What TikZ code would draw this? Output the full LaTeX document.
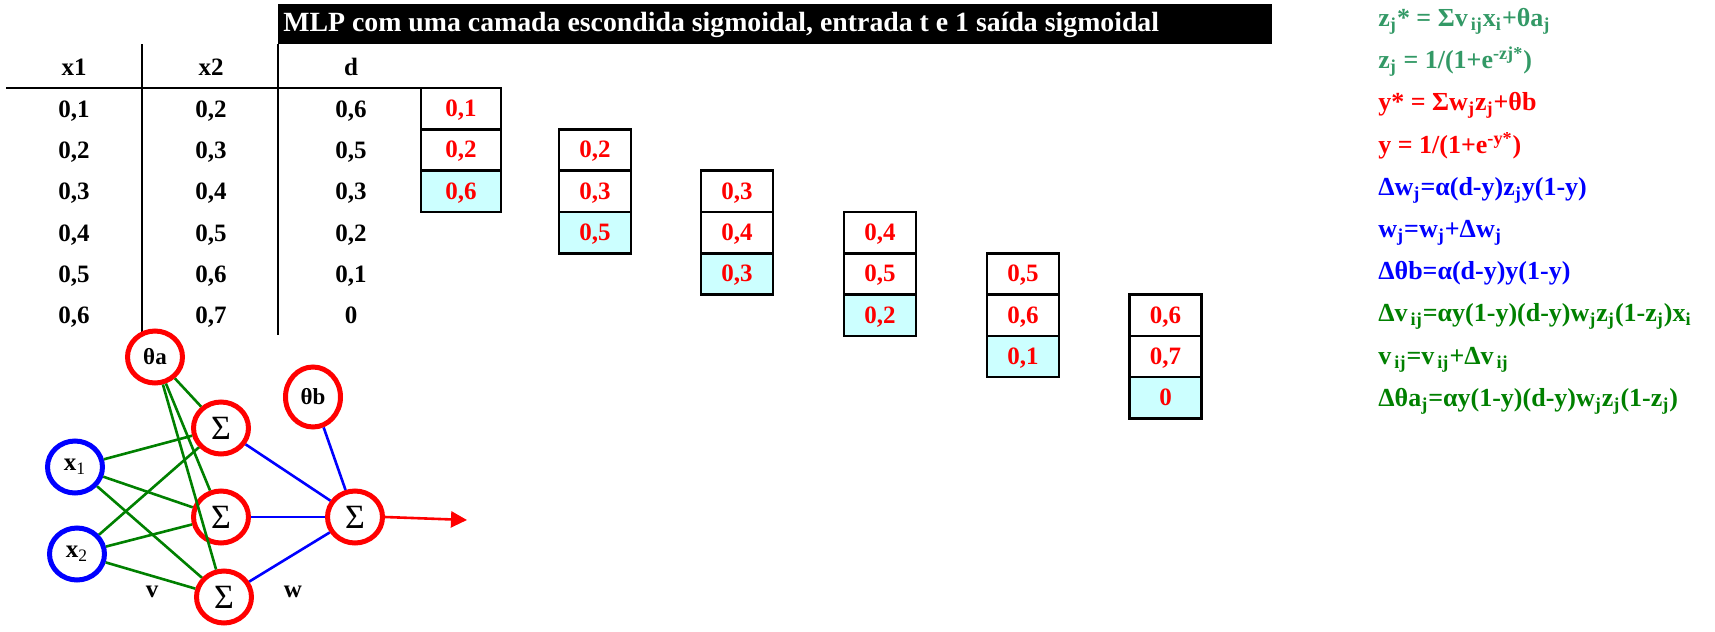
\documentclass[tikz,border=0pt]{standalone}
\usepackage{fontspec}
\setmainfont{Liberation Serif}
\usetikzlibrary{shapes.geometric,arrows.meta}
\definecolor{cellcyan}{HTML}{CCFFFF}
\definecolor{eqgreenA}{HTML}{339966}
\definecolor{eqgreen}{HTML}{008000}
\definecolor{myred}{HTML}{FF0000}
\definecolor{myblue}{HTML}{0000FF}
\begin{document}
\begin{tikzpicture}[x=0.5pt,y=-0.5pt,
  every node/.style={font=\fontsize{12.5}{15}\selectfont\bfseries},
  tline/.style={line width=1pt,black},
  cell/.style={draw=black,line width=1.3pt,minimum width=36pt,minimum height=20.65pt,inner sep=0pt,text=myred,text height=9pt,text depth=1pt},
  cellA/.style={cell,minimum width=40pt},
  hl/.style={fill=cellcyan},
  tval/.style={anchor=base,inner sep=0pt},
  eq/.style={anchor=base west,inner sep=0pt,font=\fontsize{13}{15}\selectfont\bfseries},
  neu/.style={ellipse,line width=2.5pt,minimum width=27.5pt,minimum height=26pt,inner sep=0pt},
  sig/.style={font=\fontsize{17}{18}\selectfont},
  thl/.style={font=\fontsize{11.5}{13}\selectfont\bfseries},
  vw/.style={line width=1.3pt,eqgreen},
  ww/.style={line width=1.3pt,myblue}]
\useasboundingbox (0,0) rectangle (1715,632);
% title bar
\fill[black] (278,4) rectangle (1272,44);
\node[eq,text=white,font=\fontsize{13.9}{15}\selectfont\bfseries] (title) at (283,31) {MLP com uma camada escondida sigmoidal, entrada t e 1 saída sigmoidal};
% table lines
\draw[tline] (142,44) -- (142,335);
\draw[tline] (278,44) -- (278,335);
\draw[tline] (6,88) -- (421,88);
% headers
\node[tval] (hx1) at (74,75) {x1};
\node[tval] (hx2) at (211,75) {x2};
\node[tval] (hd) at (351,75) {d};
% rows
\node[tval] (r1a) at (74,117) {0,1};  \node[tval] (r1b) at (211,117) {0,2};  \node[tval] (r1c) at (351,117) {0,6};
\node[tval] (r2a) at (74,158) {0,2};  \node[tval] (r2b) at (211,158) {0,3};  \node[tval] (r2c) at (351,158) {0,5};
\node[tval] (r3a) at (74,199.5) {0,3};  \node[tval] (r3b) at (211,199.5) {0,4};  \node[tval] (r3c) at (351,199.5) {0,3};
\node[tval] (r4a) at (74,241) {0,4};  \node[tval] (r4b) at (211,241) {0,5};  \node[tval] (r4c) at (351,241) {0,2};
\node[tval] (r5a) at (74,282) {0,5};  \node[tval] (r5b) at (211,282) {0,6};  \node[tval] (r5c) at (351,282) {0,1};
\node[tval] (r6a) at (74,323) {0,6};  \node[tval] (r6b) at (211,323) {0,7};  \node[tval] (r6c) at (351,323) {0};
% boxes
\node[cellA] (b1a) at (461,108.65) {0,1};
\node[cellA] (b1b) at (461,149.95) {0,2};
\node[cellA,hl] (b1c) at (461,191.25) {0,6};
\node[cell] (b2a) at (595,149.95) {0,2};
\node[cell] (b2b) at (595,191.25) {0,3};
\node[cell,hl] (b2c) at (595,232.55) {0,5};
\node[cell] (b3a) at (737,191.25) {0,3};
\node[cell] (b3b) at (737,232.55) {0,4};
\node[cell,hl] (b3c) at (737,273.85) {0,3};
\node[cell] (b4a) at (880,232.55) {0,4};
\node[cell] (b4b) at (880,273.85) {0,5};
\node[cell,hl] (b4c) at (880,315.15) {0,2};
\node[cell] (b5a) at (1023,273.85) {0,5};
\node[cell] (b5b) at (1023,315.15) {0,6};
\node[cell,hl] (b5c) at (1023,356.45) {0,1};
\node[cell] (b6a) at (1165.5,315.15) {0,6};
\node[cell] (b6b) at (1165.5,356.45) {0,7};
\node[cell,hl] (b6c) at (1165.5,397.75) {0};
% equations
\node[eq,text=eqgreenA] (e1) at (1378,26) {z\textsubscript{j}* = Σv\textsubscript{\,ij}x\textsubscript{i}+θa\textsubscript{j}};
\node[eq,text=eqgreenA] (e2) at (1378,68) {z\textsubscript{j} = 1/(1+e\textsuperscript{-zj*})};
\node[eq,text=myred] (e3) at (1378,110) {y* = Σw\textsubscript{j}z\textsubscript{j}+θb};
\node[eq,text=myred] (e4) at (1378,153) {y = 1/(1+e\textsuperscript{-y*})};
\node[eq,text=myblue] (e5) at (1378,195) {Δw\textsubscript{j}=α(d-y)z\textsubscript{j}y(1-y)};
\node[eq,text=myblue] (e6) at (1378,237) {w\textsubscript{j}=w\textsubscript{j}+Δw\textsubscript{j}};
\node[eq,text=myblue] (e7) at (1378,279) {Δθb=α(d-y)y(1-y)};
\node[eq,text=eqgreen] (e8) at (1378,321) {Δv\textsubscript{\,ij}=αy(1-y)(d-y)w\textsubscript{j}z\textsubscript{j}(1-z\textsubscript{j})x\textsubscript{i}};
\node[eq,text=eqgreen] (e9) at (1378,364) {v\textsubscript{\,ij}=v\textsubscript{\,ij}+Δv\textsubscript{\,ij}};
\node[eq,text=eqgreen] (e10) at (1378,406) {Δθa\textsubscript{j}=αy(1-y)(d-y)w\textsubscript{j}z\textsubscript{j}(1-z\textsubscript{j})};
% network
\node[neu,draw=myred,thl] (ta) at (155,357) {θa};
\node[neu,draw=myred,sig] (s1) at (221,428) {Σ};
\node[neu,draw=myred,sig] (s2) at (221,517) {Σ};
\node[neu,draw=myred,sig] (s3) at (224,597) {Σ};
\node[neu,draw=myblue] (x1) at (75,467) {x\textsubscript{\mdseries 1}};
\node[neu,draw=myblue] (x2) at (77,554) {x\textsubscript{\mdseries 2}};
\node[neu,draw=myred,thl,minimum height=30pt] (tb) at (313,397) {θb};
\node[neu,draw=myred,sig] (so) at (355,517) {Σ};
\coordinate (out) at (467,520);
\node (lv) at (152,592) {v};
\node (lw) at (293,592) {w};
\draw[vw] (x1) -- (s1);
\draw[vw] (x1) -- (s2);
\draw[vw] (x1) -- (s3);
\draw[vw] (x2) -- (s1);
\draw[vw] (x2) -- (s2);
\draw[vw] (x2) -- (s3);
\draw[vw] (ta) -- (s1);
\draw[vw] (ta) -- (s2);
\draw[vw] (ta) -- (s3);
\draw[ww] (s1) -- (so);
\draw[ww] (s2) -- (so);
\draw[ww] (s3) -- (so);
\draw[ww] (tb) -- (so);
\draw[line width=1.3pt,myred,-{Triangle[length=8pt,width=8pt]}] (so.east) -- (out);
\end{tikzpicture}
\end{document}
